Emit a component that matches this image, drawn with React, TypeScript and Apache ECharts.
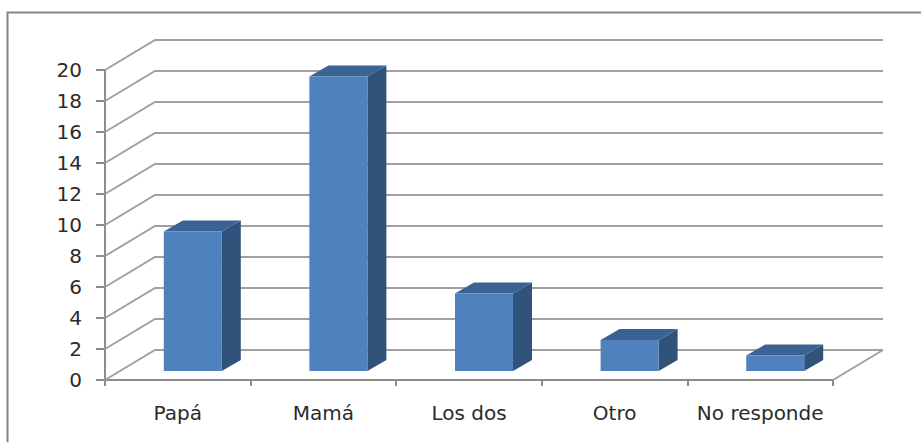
import React, { useEffect, useRef } from "react";
import * as echarts from "echarts";

const categories = ["Papá", "Mamá", "Los dos", "Otro", "No responde"];
const values = [9, 19, 5, 2, 1];
const yTicks = [0, 2, 4, 6, 8, 10, 12, 14, 16, 18, 20];

const WALL_DX = 50;
const WALL_DY = -30;
const BAR_INSET_DX = 15;
const BAR_INSET_DY = -9;
const BAR_DEPTH_DX = 19;
const BAR_DEPTH_DY = -11;
const BAR_WIDTH = 58;
const GRID_COLOR = "#a0a0a0";
const AXIS_COLOR = "#8c8c8c";
const TEXT_COLOR = "#2b2b2b";

export default function App() {
  const ref = useRef<HTMLDivElement>(null);
  useEffect(() => {
    const chart = echarts.init(ref.current!, undefined, { renderer: "svg" });
    chart.setOption({
      animation: false,
      backgroundColor: "#ffffff",
      textStyle: { fontFamily: "DejaVu Sans" },
      graphic: [
        {
          type: "polyline",
          silent: true,
          shape: { points: [[7.5, 442], [7.5, 12.5], [921, 12.5]] },
          style: { stroke: "#858585", lineWidth: 2, fill: "none" },
        },
      ],
      grid: { left: 105, right: 88, top: 70, bottom: 62, containLabel: false },
      xAxis: {
        type: "category",
        data: categories,
        axisLine: { show: true, lineStyle: { color: AXIS_COLOR, width: 2 } },
        axisTick: { show: true, length: 6, alignWithLabel: false, lineStyle: { color: AXIS_COLOR, width: 2 } },
        axisLabel: { color: TEXT_COLOR, fontSize: 20, margin: 23, fontFamily: "DejaVu Sans", interval: 0 },
        splitLine: { show: false },
      },
      yAxis: {
        type: "value",
        min: 0,
        max: 20,
        interval: 2,
        axisLine: { show: true, lineStyle: { color: AXIS_COLOR, width: 2 } },
        axisTick: { show: true, length: 9, lineStyle: { color: AXIS_COLOR, width: 2 } },
        axisLabel: { color: TEXT_COLOR, fontSize: 20, margin: 23, padding: [2, 0, 0, 0], fontFamily: "DejaVu Sans" },
        splitLine: { show: false },
      },
      series: [
        {
          type: "custom",
          name: "walls",
          coordinateSystem: "cartesian2d",
          silent: true,
          clip: false,
          z: 1,
          data: yTicks.map((t) => [0, t]),
          encode: { x: 0, y: 1 },
          renderItem: (params: any, api: any) => {
            const v = api.value(1);
            const y = api.coord([0, v])[1];
            const cs = params.coordSys;
            const x0 = cs.x;
            const x1 = cs.x + cs.width;
            const style = { stroke: GRID_COLOR, lineWidth: 2, fill: "none" };
            const children: any[] = [
              {
                type: "polyline",
                shape: { points: [[x0, y], [x0 + WALL_DX, y + WALL_DY], [x1 + WALL_DX, y + WALL_DY]] },
                style,
              },
            ];
            if (v === 0) {
              children.push({
                type: "line",
                shape: { x1, y1: y, x2: x1 + WALL_DX, y2: y + WALL_DY },
                style,
              });
            }
            return { type: "group", children };
          },
        },
        {
          type: "custom",
          name: "bars",
          coordinateSystem: "cartesian2d",
          silent: true,
          clip: false,
          z: 2,
          data: values.map((v, i) => [i, v]),
          encode: { x: 0, y: 1 },
          renderItem: (_params: any, api: any) => {
            const i = api.value(0);
            const v = api.value(1);
            const top = api.coord([i, v]);
            const base = api.coord([i, 0]);
            const l = top[0] + BAR_INSET_DX - BAR_WIDTH / 2;
            const r = l + BAR_WIDTH;
            const t = top[1] + BAR_INSET_DY;
            const b = base[1] + BAR_INSET_DY;
            const dx = BAR_DEPTH_DX;
            const dy = BAR_DEPTH_DY;
            return {
              type: "group",
              children: [
                {
                  type: "polygon",
                  shape: { points: [[r, t], [r + dx, t + dy], [r + dx, b + dy], [r, b]] },
                  style: { fill: "#31527b" },
                },
                {
                  type: "polygon",
                  shape: { points: [[l, t], [l + dx, t + dy], [r + dx, t + dy], [r, t]] },
                  style: { fill: "#3a6394" },
                },
                {
                  type: "rect",
                  shape: { x: l, y: t, width: BAR_WIDTH, height: b - t },
                  style: { fill: "#4f81bd" },
                },
              ],
            };
          },
        },
      ],
    });
    return () => chart.dispose();
  }, []);
  return <div ref={ref} style={{ position: "absolute", left: 0, top: 0, width: 921, height: 442 }} />;
}
